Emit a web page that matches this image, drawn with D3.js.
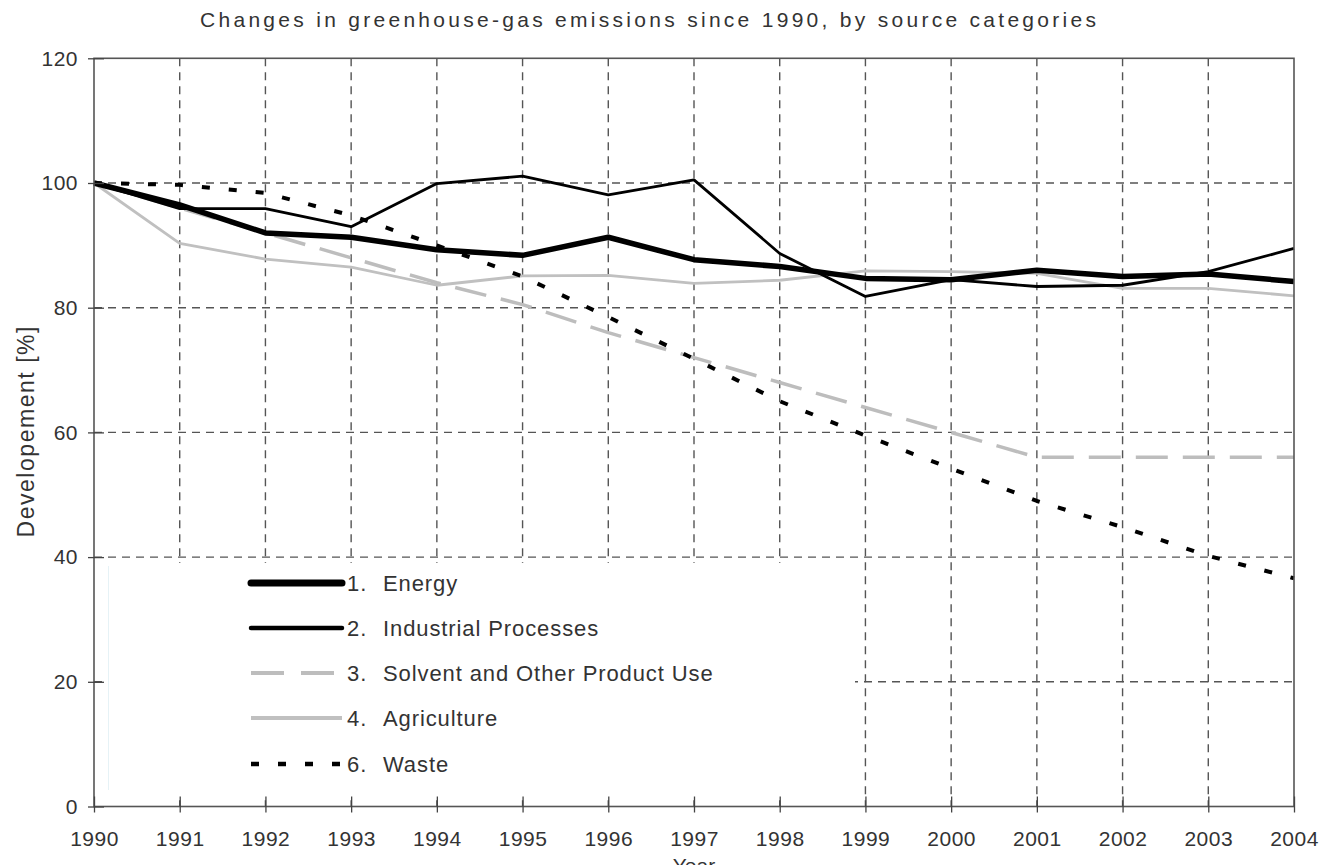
<!DOCTYPE html>
<html>
<head>
<meta charset="utf-8">
<script src="https://cdn.jsdelivr.net/npm/d3@7"></script>
<style>
  html, body { margin: 0; padding: 0; background: #fff; }
  svg { display: block; }
  text { font-family: "Liberation Sans", Arial, sans-serif; fill: #333; }
</style>
</head>
<body>
<svg id="chart" width="1325" height="865"></svg>
<script>
const years = [1990,1991,1992,1993,1994,1995,1996,1997,1998,1999,2000,2001,2002,2003,2004];
const yTicks = [0,20,40,60,80,100,120];
const energy      = [100, 96.5, 92.0, 91.3, 89.3, 88.4, 91.3, 87.7, 86.6, 84.7, 84.5, 86.0, 85.0, 85.4, 84.2];
const industrial  = [100, 95.9, 95.9, 93.0, 99.9, 101.1, 98.1, 100.5, 88.7, 81.8, 84.5, 83.4, 83.6, 85.8, 89.5];
const solvent     = [100, 96, 92, 88, 84, 80.5, 76, 72, 68, 64, 60, 56, 56, 56, 56];
const agriculture = [100, 90.3, 87.8, 86.5, 83.6, 85.1, 85.2, 83.9, 84.4, 85.9, 85.8, 85.5, 83.1, 83.1, 81.9];
const waste       = [100, 99.7, 98.4, 94.8, 90.0, 85.0, 78.5, 71.8, 65.0, 59.5, 54.2, 49.0, 44.8, 40.2, 36.6];
const seriesNames = ["1.  Energy", "2.  Industrial Processes", "3.  Solvent and Other Product Use", "4.  Agriculture", "6.  Waste"];

const svg = d3.select("#chart");
const x = d3.scaleLinear().domain([1990, 2004]).range([94, 1294]);
const y = d3.scaleLinear().domain([0, 120]).range([806.5, 58.3]);

const styles = [
  {data: energy,      color: "#000",    width: 5.5, dash: null},
  {data: industrial,  color: "#000",    width: 2.8, dash: null},
  {data: solvent,     color: "#bdbdbd", width: 3.5, dash: "32,15"},
  {data: agriculture, color: "#c0c0c0", width: 2.8, dash: null},
  {data: waste,       color: "#000",    width: 4,   dash: "8,19"}
];

// title
svg.append("text").attr("x", 648).attr("y", 27).attr("text-anchor", "middle")
  .attr("font-size", 21).attr("textLength", 896).attr("lengthAdjust", "spacing")
  .text("Changes in greenhouse-gas emissions since 1990, by source categories");

// grid
const grid = svg.append("g").attr("stroke", "#555").attr("stroke-width", 1.4).attr("stroke-dasharray", "8,6");
grid.selectAll("line.h").data(yTicks.filter(d => d > 0 && d < 120)).join("line")
  .attr("x1", x(1990)).attr("x2", x(2004)).attr("y1", d => y(d)).attr("y2", d => y(d));
grid.selectAll("line.v").data(years.filter(d => d > 1990 && d < 2004)).join("line")
  .attr("x1", d => x(d)).attr("x2", d => x(d)).attr("y1", y(120)).attr("y2", y(0));

// series lines
const line = d3.line().x((d, i) => x(years[i])).y(d => y(d));
const order = [3, 2, 1, 0, 4];
order.forEach(k => {
  const s = styles[k];
  svg.append("path").datum(s.data).attr("d", line).attr("fill", "none")
    .attr("stroke", s.color).attr("stroke-width", s.width)
    .attr("stroke-dasharray", s.dash).attr("stroke-linejoin", "round");
});

// legend box (white, covers grid)
const lg = svg.append("g");
lg.append("rect").attr("x", 108).attr("y", 563).attr("width", 747).attr("height", 232)
  .attr("fill", "#fff").attr("stroke", "none");
lg.append("line").attr("x1", 108.5).attr("x2", 108.5).attr("y1", 566).attr("y2", 790)
  .attr("stroke", "#e6f2f6").attr("stroke-width", 1);
const rowY = [583, 628, 673, 718, 764];
seriesNames.forEach((name, i) => {
  const s = styles[i];
  lg.append("line").attr("x1", 251).attr("x2", 342).attr("y1", rowY[i]).attr("y2", rowY[i])
    .attr("stroke", s.color).attr("stroke-width", i === 0 ? 7 : (i === 1 ? 4.5 : (i === 4 ? 4.5 : 4)))
    .attr("stroke-dasharray", i === 2 ? "33,17" : (i === 4 ? "8,19" : null))
    .attr("stroke-linecap", i === 0 || i === 1 ? "round" : "butt");
  const t = lg.append("text").attr("x", 347).attr("y", rowY[i] + 8).attr("font-size", 22)
    .attr("letter-spacing", 0.9);
  const parts = name.split(/\s\s/);
  t.append("tspan").text(parts[0]);
  t.append("tspan").attr("x", 383).text(parts[1]);
});

// frame
svg.append("rect").attr("x", x(1990)).attr("y", y(120)).attr("width", x(2004) - x(1990))
  .attr("height", y(0) - y(120)).attr("fill", "none").attr("stroke", "#555").attr("stroke-width", 1.6);

// axes
const yAxis = d3.axisLeft(y).tickValues(yTicks).tickSizeInner(-10).tickSizeOuter(0).tickPadding(16);
const gy = svg.append("g").attr("transform", `translate(${x(1990)},0)`).call(yAxis);
gy.select(".domain").remove();
gy.selectAll(".tick line").attr("stroke", "#444").attr("stroke-width", 1.3)
  .attr("x1", -6).attr("x2", 10);
gy.selectAll(".tick text").attr("font-size", 21).attr("fill", "#333").attr("letter-spacing", 0.5)
  .attr("font-family", "Liberation Sans, Arial, sans-serif").attr("x", -16);

const xAxis = d3.axisBottom(x).tickValues(years).tickFormat(d3.format("d")).tickSizeInner(6).tickSizeOuter(0).tickPadding(19);
const gx = svg.append("g").attr("transform", `translate(0,${y(0)})`).call(xAxis);
gx.select(".domain").remove();
gx.selectAll(".tick line").attr("stroke", "#444").attr("stroke-width", 1.3)
  .attr("y1", -10).attr("y2", 6);
gx.selectAll(".tick text").attr("font-size", 21).attr("fill", "#333").attr("letter-spacing", 0.5)
  .attr("font-family", "Liberation Sans, Arial, sans-serif");

// axis titles
svg.append("text").attr("transform", "translate(34,432) rotate(-90)").attr("text-anchor", "middle")
  .attr("font-size", 23).attr("textLength", 211).attr("lengthAdjust", "spacing").text("Developement [%]");
svg.append("text").attr("x", 694).attr("y", 873).attr("text-anchor", "middle")
  .attr("font-size", 21).text("Year");
</script>
</body>
</html>
